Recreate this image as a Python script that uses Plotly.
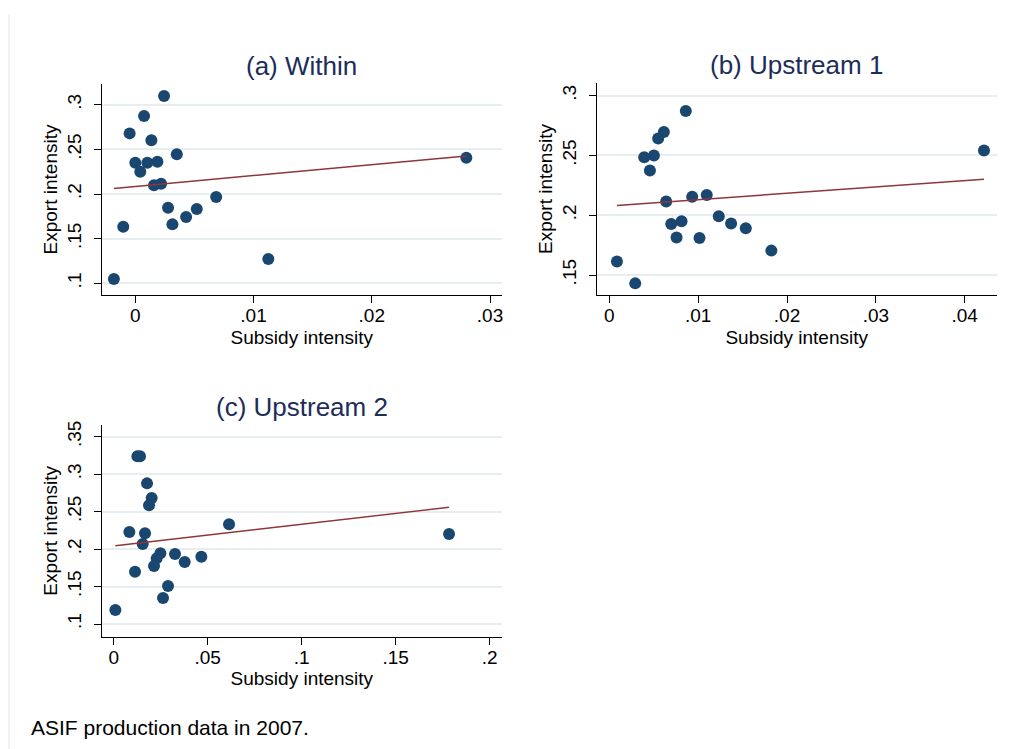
import plotly.graph_objects as go

# page is placed with an 8px body margin, so the figure is sized to fill the rest
OFF = 8
W, H = 1016 - OFF, 749 - OFF

# ---------------- data ----------------
a_x = [0.00243, 0.00074, -0.00048, 0.00136, 0.00351, 0.00000, 0.00102, 0.00187, 0.00042, 0.00158,
       0.00218, 0.00684, 0.00277, 0.00520, 0.00430, 0.00314, -0.00102, 0.01125, -0.00181, 0.02800]
a_y = [0.3097, 0.2873, 0.2679, 0.2601, 0.2444, 0.2351, 0.2351, 0.2362, 0.2250, 0.2097,
       0.2116, 0.1966, 0.1847, 0.1832, 0.1743, 0.1660, 0.1634, 0.1272, 0.1049, 0.2407]
a_fit_x = [-0.00181, 0.02800]
a_fit_y = [0.2063, 0.2425]

b_x = [0.00086, 0.00292, 0.00393, 0.00502, 0.00457, 0.00550, 0.00614, 0.00861, 0.00640, 0.00697,
       0.00813, 0.00757, 0.00933, 0.01097, 0.01015, 0.01232, 0.01371, 0.01536, 0.01824, 0.04217]
b_y = [0.1612, 0.1430, 0.2486, 0.2500, 0.2374, 0.2642, 0.2696, 0.2872, 0.2115, 0.1927,
       0.1950, 0.1813, 0.2154, 0.2170, 0.1810, 0.1992, 0.1930, 0.1891, 0.1704, 0.2542]
b_fit_x = [0.00086, 0.04217]
b_fit_y = [0.2081, 0.2302]

c_x = [0.00089, 0.00833, 0.01135, 0.01260, 0.01400, 0.01773, 0.02020, 0.01880, 0.01667, 0.01543,
       0.02482, 0.02287, 0.02145, 0.03262, 0.03777, 0.04663, 0.02890, 0.02624, 0.06135, 0.17837]
c_y = [0.1187, 0.2228, 0.1698, 0.3238, 0.3238, 0.2877, 0.2681, 0.2584, 0.2210, 0.2068,
       0.1943, 0.1876, 0.1774, 0.1934, 0.1827, 0.1899, 0.1507, 0.1347, 0.2330, 0.2201]
c_fit_x = [0.00089, 0.17837]
c_fit_y = [0.2045, 0.2557]

a_xticks = [0, 0.01, 0.02, 0.03]
a_xlabels = ["0", ".01", ".02", ".03"]
a_yticks = [0.1, 0.15, 0.2, 0.25, 0.3]
a_ylabels = [".1", ".15", ".2", ".25", ".3"]
b_xticks = [0, 0.01, 0.02, 0.03, 0.04]
b_xlabels = ["0", ".01", ".02", ".03", ".04"]
b_yticks = [0.15, 0.2, 0.25, 0.3]
b_ylabels = [".15", ".2", ".25", ".3"]
c_xticks = [0, 0.05, 0.1, 0.15, 0.2]
c_xlabels = ["0", ".05", ".1", ".15", ".2"]
c_yticks = [0.1, 0.15, 0.2, 0.25, 0.3, 0.35]
c_ylabels = [".1", ".15", ".2", ".25", ".3", ".35"]

titles = ["(a) Within", "(b) Upstream 1", "(c) Upstream 2"]
x_title = "Subsidy intensity"
y_title = "Export intensity"
note = "ASIF production data in 2007."

# ---------------- styling ----------------
FONT = "Liberation Sans, Arial, sans-serif"
NAVY = "#1a476f"
MAROON = "#90353b"
TITLE_C = "#1c2d5a"
GRID = "#e6eef0"

def px_x(p):
    return (p - OFF) / W

def px_y(p):
    return 1 - (p - OFF) / H

# pixel boxes in window coordinates: (left, right, top, bottom)
boxes = [(102, 501.7, 84, 295), (596.7, 996.7, 83, 295), (102, 501.7, 425, 636.7)]
xranges = [[-0.002817, 0.03099], [-0.001418, 0.0436], [-0.00622, 0.20638]]
yranges = [[0.0869, 0.3232], [0.13327, 0.31062], [0.08305, 0.3656]]

fig = go.Figure()
data = [(a_x, a_y, a_fit_x, a_fit_y), (b_x, b_y, b_fit_x, b_fit_y), (c_x, c_y, c_fit_x, c_fit_y)]
xt = [(a_xticks, a_xlabels), (b_xticks, b_xlabels), (c_xticks, c_xlabels)]
yt = [(a_yticks, a_ylabels), (b_yticks, b_ylabels), (c_yticks, c_ylabels)]

annotations = []
for i, (xs, ys, fx, fy) in enumerate(data):
    sfx = "" if i == 0 else str(i + 1)
    fig.add_trace(go.Scatter(x=xs, y=ys, mode="markers", xaxis="x" + sfx, yaxis="y" + sfx,
                             marker=dict(color=NAVY, size=12, line=dict(width=0)),
                             showlegend=False, hoverinfo="x+y"))
    fig.add_trace(go.Scatter(x=fx, y=fy, mode="lines", xaxis="x" + sfx, yaxis="y" + sfx,
                             line=dict(color=MAROON, width=1.5), showlegend=False))
    l, r, t, b = boxes[i]
    axcommon = dict(showline=True, linecolor="#000000", linewidth=1, ticks="outside",
                    ticklen=7, tickcolor="#000000", tickwidth=1, zeroline=False,
                    automargin=False,
                    tickfont=dict(family=FONT, size=19, color="#000000"),
                    title_font=dict(family=FONT, size=19, color="#000000"))
    fig.layout["xaxis" + sfx] = dict(domain=[px_x(l), px_x(r)], range=xranges[i],
                                     anchor="y" + sfx, tickmode="array",
                                     tickvals=xt[i][0], ticktext=xt[i][1], showgrid=False,
                                     ticklabelstandoff=-4,
                                     title=dict(text=x_title, standoff=5), **axcommon)
    fig.layout["yaxis" + sfx] = dict(domain=[px_y(b), px_y(t)], range=yranges[i],
                                     anchor="x" + sfx, tickmode="array",
                                     tickvals=yt[i][0], ticktext=yt[i][1], showgrid=True,
                                     gridcolor=GRID, gridwidth=1.5, tickangle=-90,
                                     ticklabelstandoff=5,
                                     title=dict(text=y_title, standoff=1), **axcommon)
    annotations.append(dict(text=titles[i], xref="paper", yref="paper",
                            x=px_x((l + r) / 2), y=px_y(t - 1), xanchor="center", yanchor="bottom",
                            showarrow=False, font=dict(family=FONT, size=26, color=TITLE_C)))

annotations.append(dict(text=note, xref="paper", yref="paper", x=px_x(29), y=px_y(741),
                        xanchor="left", yanchor="bottom", showarrow=False,
                        font=dict(family=FONT, size=21, color="#000000")))

fig.update_layout(template="none", width=W, height=H, margin=dict(l=0, r=0, t=0, b=0),
                  paper_bgcolor="#ffffff", plot_bgcolor="#ffffff",
                  annotations=annotations,
                  shapes=[dict(type="line", xref="paper", yref="paper",
                               x0=px_x(9), x1=px_x(9), y0=px_y(14), y1=0,
                               line=dict(color="#dfe7ea", width=1))])

fig.write_html("out.html")
